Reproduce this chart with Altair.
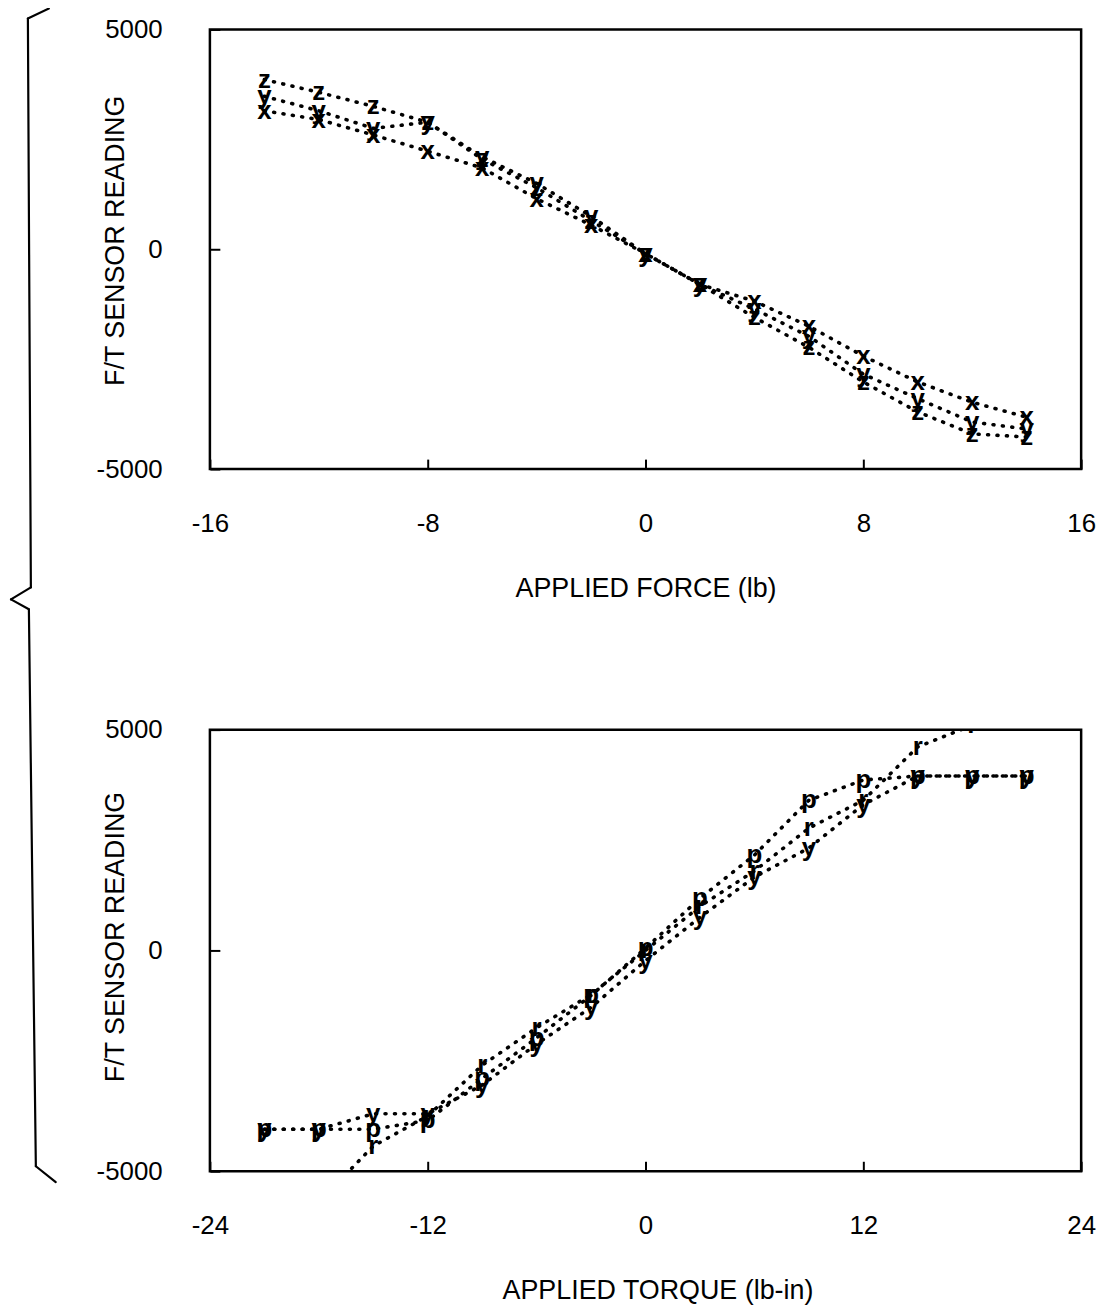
import altair as alt
import pandas as pd

FONT = "Liberation Sans"

# ---- top panel: applied force ----
force_x = [-14, -12, -10, -8, -6, -4, -2, 0, 2, 4, 6, 8, 10, 12, 14]
force_sx = [3150, 2950, 2600, 2230, 1850, 1150, 550, -100, -800, -1180, -1750, -2430, -3020, -3480, -3820]
force_sy = [3480, 3150, 2750, 2890, 2100, 1500, 750, -100, -800, -1360, -1980, -2840, -3400, -3930, -4090]
force_sz = [3860, 3570, 3250, 2890, 2050, 1400, 650, -100, -800, -1550, -2230, -3020, -3700, -4200, -4270]
force_ticks = [-16, -8, 0, 8, 16]

# ---- bottom panel: applied torque ----
torque_x = [-21, -18, -15, -12, -9, -6, -3, 0, 3, 6, 9, 12, 15, 18, 21]
torque_p = [-4050, -4050, -4050, -3850, -2900, -1980, -1020, 50, 1180, 2160, 3400, 3860, 3950, 3950, 3950]
torque_y = [-4050, -4050, -3700, -3700, -3050, -2120, -1290, -230, 750, 1660, 2320, 3300, 3950, 3950, 3950]
torque_r_x = [-18, -15, -12, -9, -6, -3, 0, 3, 6, 9, 12, 15, 18]
torque_r = [-5700, -4430, -3750, -2600, -1750, -1000, 0, 1000, 1800, 2770, 3400, 4610, 5100]
torque_ticks = [-24, -12, 0, 12, 24]

y_ticks = [-5000, 0, 5000]

HYPHEN_LABEL = "datum.value < 0 ? '-' + abs(datum.value) : '' + datum.value"


def long_df(pairs):
    rows = []
    for name, xs, vs in pairs:
        for a, b in zip(xs, vs):
            rows.append({"x": a, "v": b, "s": name})
    return pd.DataFrame(rows)


df_force = long_df([("x", force_x, force_sx), ("y", force_x, force_sy), ("z", force_x, force_sz)])
df_torque = long_df([("p", torque_x, torque_p), ("y", torque_x, torque_y), ("r", torque_r_x, torque_r)])


def seg(x1, y1, x2, y2):
    return alt.Chart(alt.Data(values=[{}])).mark_rule(
        color="black", strokeWidth=2.2, strokeCap="round"
    ).encode(x=alt.value(x1), y=alt.value(y1), x2=alt.value(x2), y2=alt.value(y2))


def panel(df, xdom, xticks, xtitle, brace, h, title_x, title_y_left):
    yaxis = alt.Axis(
        values=y_ticks, labelExpr=HYPHEN_LABEL, offset=-10, tickSize=10, tickWidth=2,
        tickColor="black", domain=False, grid=False, labelPadding=48, labelFontSize=26,
        labelFont=FONT, labelColor="black", labelBaseline="middle", labelFlush=False,
        labelOverlap=False,
        title="F/T SENSOR READING", titleFont=FONT, titleFontSize=27, titleFontWeight="normal",
        titleColor="black", titleX=-105, titleY=title_y_left, titleBaseline="middle",
        titleAngle=270,
    )
    xaxis = alt.Axis(
        values=xticks, labelExpr=HYPHEN_LABEL, offset=-10, tickSize=10, tickWidth=2,
        tickColor="black", domain=False, grid=False, labelPadding=42, labelFontSize=26,
        labelFont=FONT, labelColor="black", labelFlush=False, labelOverlap=False,
        title=xtitle, titleFont=FONT, titleFontSize=27, titleFontWeight="normal",
        titleColor="black", titleX=title_x, titleY=130, titleBaseline="middle",
    )
    xs = alt.Scale(domain=xdom, nice=False, zero=False)
    ys = alt.Scale(domain=[-5000, 5000], nice=False, zero=False)
    base = alt.Chart(df)
    lines = base.mark_line(
        strokeDash=[1, 8.5], strokeWidth=3.6, strokeCap="round", color="black", clip=True
    ).encode(
        x=alt.X("x:Q", scale=xs, axis=xaxis),
        y=alt.Y("v:Q", scale=ys, axis=yaxis),
        detail="s:N",
        order="x:Q",
    )
    text = base.mark_text(
        font=FONT, fontSize=26, fontWeight="bold", color="black",
        align="center", baseline="middle", clip=True,
    ).encode(x="x:Q", y="v:Q", text="s:N")
    layers = [lines, text] + [seg(*b) for b in brace]
    return alt.layer(*layers).properties(width=876, height=h)


top = panel(
    df_force, [-16, 16], force_ticks, "APPLIED FORCE (lb)",
    [(-162, -21, -183, -11), (-183, -11, -180, 561), (-180, 561, -200, 573)], 442, 438, 212,
)
bottom = panel(
    df_torque, [-24, 24], torque_ticks, "APPLIED TORQUE (lb-in)",
    [(-200, -131, -182, -121), (-182, -121, -175, 439), (-175, 439, -155, 455)], 444, 450, 208,
)

chart = alt.VConcatChart(vconcat=[top, bottom], spacing=262, bounds="flush").properties(
    padding={"left": 0, "top": -6, "right": 10, "bottom": 10},
    background="white",
).configure_view(stroke="black", strokeWidth=2.5)

chart.save("out.html", embed_options={"renderer": "svg", "actions": False})
